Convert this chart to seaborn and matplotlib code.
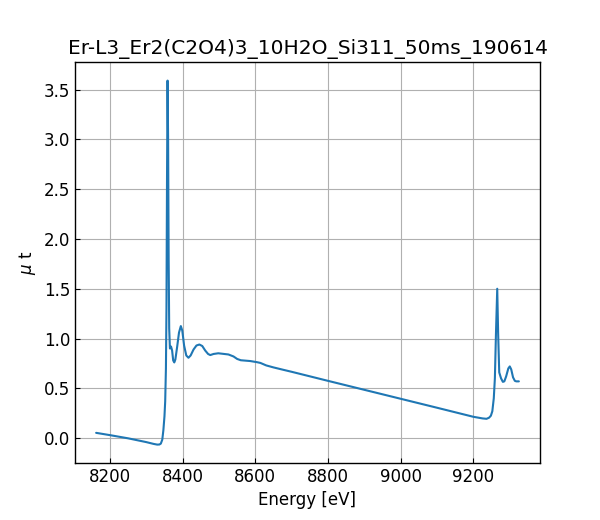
import matplotlib
matplotlib.use("Agg")
import matplotlib.pyplot as plt
import seaborn as sns
import pandas as pd

energy = [8162, 8200, 8250, 8300, 8320, 8330, 8336, 8340, 8344, 8347, 8350, 8352,
          8354, 8355.5, 8357, 8358.5, 8360, 8361.5, 8363, 8365, 8368, 8371, 8374,
          8377, 8380, 8385, 8390, 8395, 8399, 8404, 8410, 8416, 8422, 8430, 8438,
          8446, 8454, 8462, 8470, 8476, 8485, 8498, 8512, 8526, 8540, 8550, 8560,
          8586, 8604, 8614, 8630, 8650, 8677, 8700, 8800, 8900, 9000, 9100, 9200,
          9225, 9236, 9243, 9248, 9252, 9256, 9259, 9262, 9265.5, 9268, 9271, 9276,
          9281, 9285, 9290, 9296, 9300, 9304, 9309, 9314, 9318, 9325]
mu = [0.053, 0.030, -0.002, -0.040, -0.058, -0.065, -0.064, -0.055, -0.015, 0.08,
      0.22, 0.37, 0.70, 1.3, 2.6, 3.59, 3.0, 1.8, 1.1, 0.90, 0.92, 0.88, 0.78,
      0.76, 0.79, 0.92, 1.06, 1.125, 1.08, 0.93, 0.83, 0.807, 0.83, 0.89, 0.93,
      0.94, 0.925, 0.88, 0.845, 0.834, 0.845, 0.852, 0.846, 0.840, 0.82, 0.795,
      0.782, 0.774, 0.763, 0.755, 0.73, 0.71, 0.686, 0.666, 0.575, 0.485, 0.395,
      0.305, 0.214, 0.198, 0.194, 0.205, 0.225, 0.27, 0.40, 0.6, 1.05, 1.50, 1.05,
      0.66, 0.60, 0.565, 0.57, 0.62, 0.70, 0.72, 0.69, 0.61, 0.575, 0.57, 0.57]

title = "Er-L3_Er2(C2O4)3_10H2O_Si311_50ms_190614"

sns.set_theme(style="ticks")
plt.rcParams.update({
    "font.family": ["DejaVu Sans"],
    "text.color": "black",
    "axes.labelcolor": "black",
    "xtick.color": "black",
    "ytick.color": "black",
    "xtick.direction": "in",
    "ytick.direction": "in",
    "xtick.major.size": 3.5,
    "ytick.major.size": 3.5,
    "xtick.major.width": 0.8,
    "ytick.major.width": 0.8,
    "xtick.labelsize": 12,
    "ytick.labelsize": 12,
    "axes.labelsize": 12,
    "axes.titlesize": 14.5,
    "axes.edgecolor": "black",
    "axes.linewidth": 1.0,
    "grid.color": "#b0b0b0",
    "grid.linewidth": 0.8,
})

df = pd.DataFrame({"Energy": energy, "mu": mu})
fig, ax = plt.subplots(figsize=(6, 5.2), dpi=100)
sns.lineplot(data=df, x="Energy", y="mu", ax=ax, color="#1f77b4", linewidth=1.5,
             sort=False, estimator=None)
ax.grid(True)
ax.set_xlabel("Energy [eV]")
ax.set_ylabel(r"$\mu$ t")
ax.set_title(title)
ax.set_xticks([8200, 8400, 8600, 8800, 9000, 9200])
ax.set_yticks([0.0, 0.5, 1.0, 1.5, 2.0, 2.5, 3.0, 3.5])
ax.margins(x=0.05, y=0.05)
fig.subplots_adjust(left=0.125, right=0.9, bottom=0.11, top=0.88)
fig.savefig("out.png", dpi=100)
